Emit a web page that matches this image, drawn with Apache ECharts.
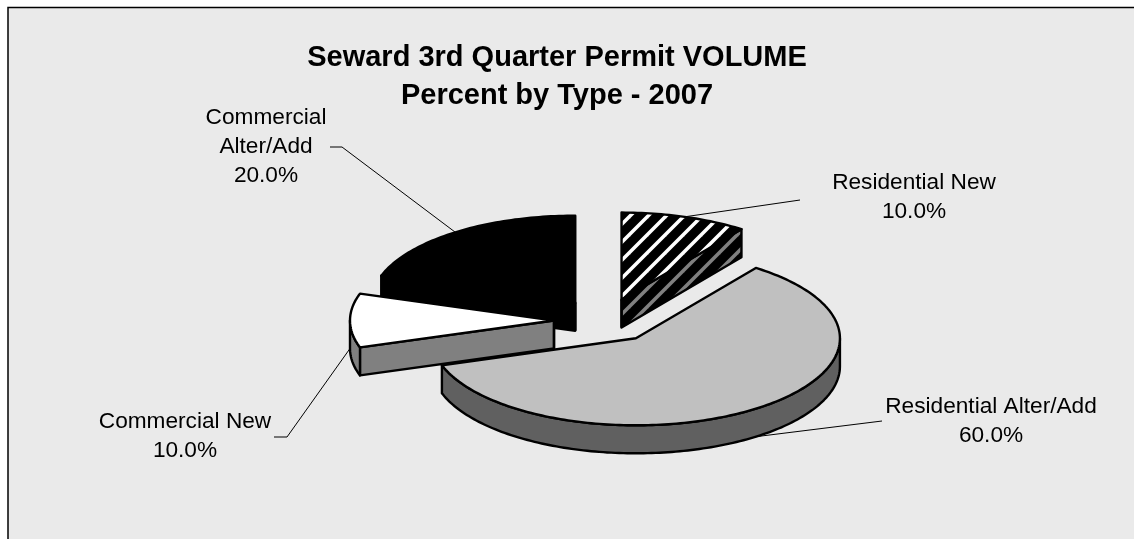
<!DOCTYPE html>
<html>
<head>
<meta charset="utf-8">
<style>html,body{margin:0;padding:0;background:#fff}#c{width:1134px;height:539px}</style>
<script src="https://cdn.jsdelivr.net/npm/echarts@6/dist/echarts.min.js"></script>
</head>
<body>
<div id="c"></div>
<script>
// ---- data ----
var titleLines = ['Seward 3rd Quarter Permit VOLUME', 'Percent by Type - 2007'];
var categories = ['Residential New', 'Residential Alter/Add', 'Commercial New', 'Commercial Alter/Add'];
var categoryLabels = ['Residential New', 'Residential Alter/Add', 'Commercial New', 'Commercial\nAlter/Add'];
var percentValues = [10, 60, 10, 20];

// ---- layout & style ----
var pie = { cx: 605.6, cy: 320.5, rx: 204, ry: 87, depth: 28, explode: 51.6 };
var paintOrder = [2, 3, 4, 1];
var topFill = ['hatchTop', '#c0c0c0', '#ffffff', '#000000'];
var wallFill = ['hatchWall', '#606060', '#808080', '#000000'];
var labelCentre = [[914, 183], [991, 407], [185, 422], [266, 118]];
var leaderElbows = [[[800, 200]], [[882, 421]], [[287, 437], [274, 437]], [[342, 147], [330, 147]]];

function hatch(stripe, width) {
  var p = 18, c = document.createElement('canvas');
  c.width = p; c.height = p;
  var g = c.getContext('2d');
  g.fillStyle = '#000'; g.fillRect(0, 0, p, p);
  g.strokeStyle = stripe; g.lineWidth = width;
  [-p, 0, p].forEach(function (o) {
    g.beginPath(); g.moveTo(o - 2, p + 2); g.lineTo(o + p + 2, -2); g.stroke();
  });
  return { image: c, repeat: 'repeat' };
}
var fills = { hatchTop: hatch('#ffffff', 3.5), hatchWall: hatch('#808080', 3.5) };
function paint(f) { return fills[f] || f; }

var total = percentValues.reduce(function (a, b) { return a + b; }, 0);
var starts = [];
percentValues.reduce(function (a, v, i) { starts[i] = a; return a + v; }, 0);

function renderSlice(params, api) {
  var i = params.dataIndex, value = api.value(0);
  var a0 = starts[i] / total * 2 * Math.PI, a1 = a0 + value / total * 2 * Math.PI, mid = (a0 + a1) / 2;
  var ax = pie.cx + pie.explode * Math.sin(mid);
  var ay = pie.cy - pie.explode * (pie.ry / pie.rx) * Math.cos(mid);
  function pt(a, dz) { return [ax + pie.rx * Math.sin(a), ay - pie.ry * Math.cos(a) + (dz || 0)]; }
  function arc(from, to, dz) {
    var n = Math.max(2, Math.ceil((to - from) / 0.02)), out = [];
    for (var k = 0; k <= n; k++) out.push(pt(from + (to - from) * k / n, dz));
    return out;
  }
  var z = paintOrder[i] * 10, kids = [];
  function poly(points, fill, lw, extra) {
    kids.push({ type: 'polygon', z2: z + (extra || 0), shape: { points: points },
      style: { fill: paint(fill), stroke: '#000', lineWidth: lw, lineJoin: 'round' } });
  }
  var apex = [ax, ay], apexLow = [ax, ay + pie.depth];
  // radial walls that face the viewer
  [[a0, a0 - Math.PI / 2], [a1, a1 + Math.PI / 2]].forEach(function (e) {
    if (Math.cos(e[1]) < -1e-6) {
      poly([apex, pt(e[0]), pt(e[0], pie.depth), apexLow], wallFill[i], 2.4, 0);
    }
  });
  // curved wall on the front half of the rim
  var f0 = Math.max(a0, Math.PI / 2), f1 = Math.min(a1, 1.5 * Math.PI);
  if (f1 > f0) {
    poly(arc(f0, f1, 0).concat(arc(f0, f1, pie.depth).reverse()), wallFill[i], 2.4, 1);
  }
  // rear vertical edge for a slice that starts/ends at the top
  kids.push({ type: 'line', z2: z + 1, shape: { x1: ax, y1: ay, x2: ax, y2: ay + pie.depth },
    style: { stroke: '#000', lineWidth: 2.4 } });
  // top face
  poly([apex].concat(arc(a0, a1, 0)), topFill[i], 2.4, 2);

  // leader line anchored on the rim at the slice's mid angle, label beside it
  var anchor = pt(mid, Math.cos(mid) < 1e-6 ? pie.depth : 0);
  kids.push({ type: 'polyline', z2: 100, shape: { points: [anchor].concat(leaderElbows[i]) },
    style: { stroke: '#000', lineWidth: 1, fill: 'none' } });
  kids.push({ type: 'text', z2: 101, style: {
    x: labelCentre[i][0], y: labelCentre[i][1] - 14.5,
    text: categoryLabels[i] + '\n' + value.toFixed(1) + '%',
    font: '22.67px "Liberation Sans", Arial, sans-serif', lineHeight: 29,
    fill: '#000', align: 'center', verticalAlign: 'top' } });
  return { type: 'group', children: kids };
}

var chart = echarts.init(document.getElementById('c'), null, { renderer: 'canvas', width: 1134, height: 539 });
chart.setOption({
  animation: false,
  backgroundColor: '#ffffff',
  graphic: [{ type: 'rect', z: -1, shape: { x: 8, y: 7.5, width: 1200, height: 600 },
    style: { fill: '#eaeaea', stroke: '#000', lineWidth: 1.5 } }],
  title: {
    text: titleLines.join('\n'), left: 552, top: 34, textAlign: 'center',
    textStyle: { fontFamily: '"Liberation Sans", Arial, sans-serif', fontSize: 29, fontWeight: 'bold', color: '#000', lineHeight: 38 }
  },
  series: [{
    type: 'custom', coordinateSystem: 'none', renderItem: renderSlice,
    data: percentValues.map(function (v, i) { return { name: categories[i], value: [v] }; })
  }]
});
</script>
</body>
</html>
